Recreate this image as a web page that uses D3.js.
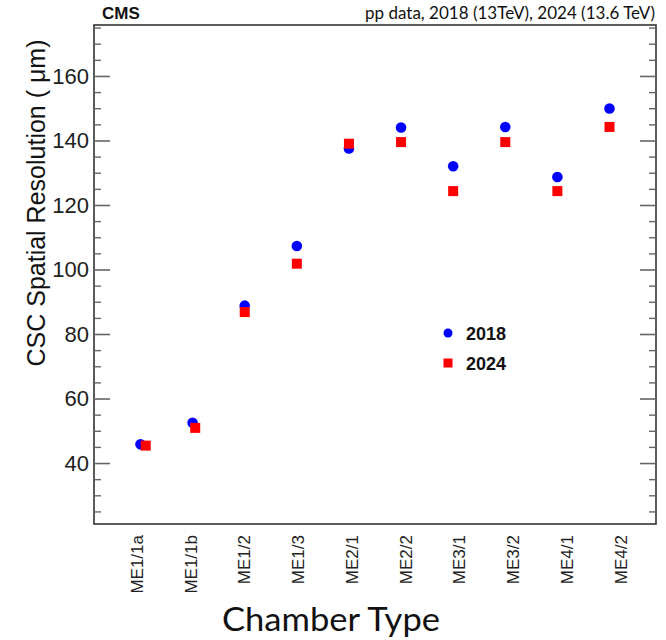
<!DOCTYPE html>
<html>
<head>
<meta charset="utf-8">
<script src="https://cdn.jsdelivr.net/npm/d3@7"></script>
<style>
  html, body { margin: 0; padding: 0; background: #fff; }
  svg { display: block; }
</style>
</head>
<body>
<svg id="chart" width="666" height="640"></svg>
<script>
// ---- data ----
const categories = ["ME1/1a", "ME1/1b", "ME1/2", "ME1/3", "ME2/1", "ME2/2", "ME3/1", "ME3/2", "ME4/1", "ME4/2"];
const res2018 = [45.8, 52.5, 88.8, 107.3, 137.5, 144.0, 132.0, 144.2, 128.7, 149.9];
const res2024 = [45.4, 50.9, 86.8, 101.8, 139.0, 139.5, 124.3, 139.5, 124.3, 144.2];
const shift2024 = [0.1, 0.05, 0, 0, 0, 0, 0, 0, 0, 0]; // small horizontal offset of 2024 points (category units)
const majorTicks = [40, 60, 80, 100, 120, 140, 160];
const minorTicks = [25, 30, 35, 45, 50, 55, 65, 70, 75, 85, 90, 95, 105, 110, 115, 125, 130, 135, 145, 150, 155, 165, 170, 175];
const seriesNames = ["2018", "2024"];

// ---- layout ----
const svg = d3.select("#chart");
const L = 94, R = 656, T = 25, B = 524;

const y = d3.scaleLinear().domain([21.1, 175.8]).range([B, T]);
const x = d3.scaleLinear().domain([0, 9]).range([140.5, 609.5]);
const xLab = d3.scalePoint().domain(categories).range([136.5, 620]);

// frame
svg.append("rect").attr("x", L).attr("y", T).attr("width", R - L).attr("height", B - T)
  .attr("fill", "none").attr("stroke", "#333").attr("stroke-width", 1.6);

// left axis ticks (inward)
function tickGroup(axis, tx, vals, size, col, w) {
  const g = svg.append("g").attr("transform", `translate(${tx},0)`)
    .call(axis(y).tickValues(vals).tickSize(size).tickFormat(""));
  g.select(".domain").remove();
  g.selectAll(".tick line").attr("stroke", col).attr("stroke-width", w);
  return g;
}
tickGroup(d3.axisRight, L, majorTicks, 16, "#666", 1.6);
tickGroup(d3.axisRight, L, minorTicks, 7, "#666", 1.4);
tickGroup(d3.axisLeft, R, majorTicks, 16, "#666", 1.6);
tickGroup(d3.axisLeft, R, minorTicks, 7, "#666", 1.4);

// left tick labels
const yl = svg.append("g").attr("transform", `translate(${L},0)`)
  .call(d3.axisLeft(y).tickValues(majorTicks).tickSize(0).tickPadding(5));
yl.select(".domain").remove();
yl.selectAll("text").attr("font-family", "Liberation Sans, Arial, sans-serif")
  .attr("font-size", 22).attr("fill", "#222");

// x labels (rotated)
const xl = svg.append("g").attr("transform", `translate(0,${B})`)
  .call(d3.axisBottom(xLab).tickSize(0).tickPadding(0));
xl.select(".domain").remove();
xl.selectAll("text")
  .attr("font-family", "Liberation Sans, Arial, sans-serif")
  .attr("font-size", 17).attr("fill", "#222")
  .attr("text-anchor", "end")
  .attr("dy", null)
  .attr("y", 0)
  .attr("transform", "translate(6,11) rotate(-90)");

// points
svg.append("g").selectAll("circle").data(res2018).join("circle")
  .attr("cx", (d, i) => x(i)).attr("cy", d => y(d)).attr("r", 5.3).attr("fill", "#0000ff");
svg.append("g").selectAll("rect").data(res2024).join("rect")
  .attr("x", (d, i) => x(i + shift2024[i]) - 5).attr("y", d => y(d) - 5)
  .attr("width", 10).attr("height", 10).attr("fill", "#ff0000");

// legend
const lg = svg.append("g").attr("font-family", "Liberation Sans, Arial, sans-serif")
  .attr("font-weight", "bold").attr("font-size", 18).attr("fill", "#111");
lg.append("circle").attr("cx", 448).attr("cy", 333).attr("r", 4.5).attr("fill", "#0000ff");
lg.append("text").attr("x", 466).attr("y", 339.5).text(seriesNames[0]);
lg.append("rect").attr("x", 443.5).attr("y", 358.5).attr("width", 9).attr("height", 9).attr("fill", "#ff0000");
lg.append("text").attr("x", 466).attr("y", 369.5).text(seriesNames[1]);

// titles
svg.append("text").attr("x", 102).attr("y", 19)
  .attr("font-family", "Liberation Sans, Arial, sans-serif").attr("font-weight", "bold")
  .attr("font-size", 17).attr("fill", "#111").text("CMS");
svg.append("text").attr("x", 655).attr("y", 19).attr("text-anchor", "end")
  .attr("font-family", "Lato, Open Sans, sans-serif").attr("font-size", 17)
  .attr("fill", "#111").attr("textLength", 290).attr("lengthAdjust", "spacingAndGlyphs")
  .text("pp data, 2018 (13TeV), 2024 (13.6 TeV)");

svg.append("text").attr("transform", "translate(45,203) rotate(-90)")
  .attr("text-anchor", "middle")
  .attr("font-family", "Liberation Sans, Arial, sans-serif").attr("font-size", 25)
  .attr("fill", "#111").text("CSC Spatial Resolution ( \u03bcm)");

svg.append("text").attr("x", 331).attr("y", 631).attr("text-anchor", "middle")
  .attr("font-family", "Lato, Open Sans, sans-serif").attr("font-size", 33)
  .attr("fill", "#111").attr("textLength", 218).attr("lengthAdjust", "spacingAndGlyphs")
  .text("Chamber Type");
</script>
</body>
</html>
